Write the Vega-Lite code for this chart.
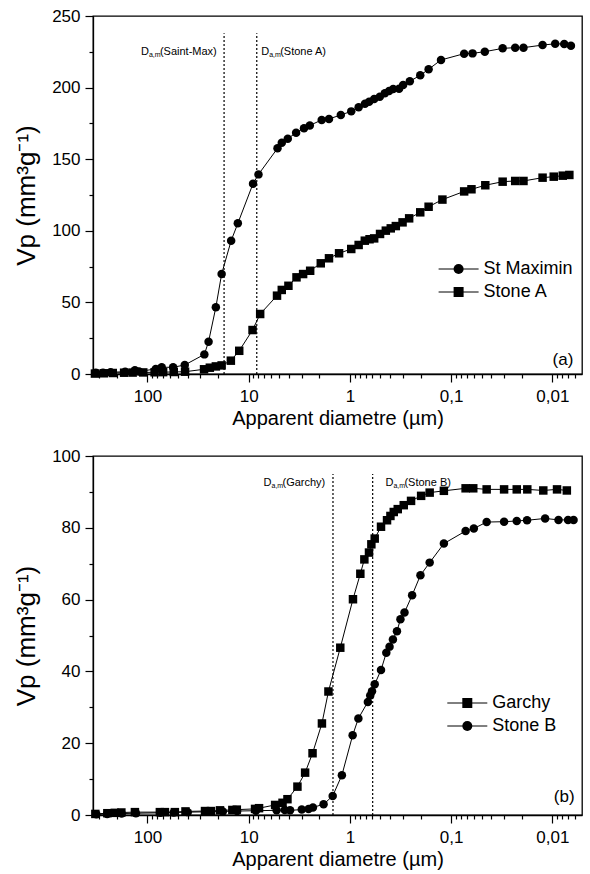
{
  "$schema": "https://vega.github.io/schema/vega-lite/v6.json",
  "padding": {"left": 12, "top": 6, "right": 0, "bottom": 0},
  "background": "white",
  "spacing": 17,
  "resolve": {"scale": {"shape": "independent", "color": "independent"}, "legend": {"shape": "independent", "color": "independent"}},
  "config": {
    "font": "Liberation Sans",
    "view": {"stroke": "black", "strokeWidth": 1.3},
    "axis": {
      "domainColor": "black", "domainWidth": 1.3, "tickColor": "black", "tickWidth": 1.2,
      "labelColor": "black", "titleColor": "black", "labelFont": "Liberation Sans", "titleFont": "Liberation Sans",
      "labelFontSize": 17, "titleFontWeight": "normal", "grid": false, "labelFlush": false, "labelOverlap": false
    }
  },
  "datasets": {
    "a_pts": [
      {"s":"St Maximin","d":324,"v":0.9},{"s":"St Maximin","d":275,"v":0.9},{"s":"St Maximin","d":231,"v":1.2},{"s":"St Maximin","d":166,"v":1.6},{"s":"St Maximin","d":133,"v":2.6},{"s":"St Maximin","d":121,"v":1.8},{"s":"St Maximin","d":82.8,"v":3.5},{"s":"St Maximin","d":72.3,"v":4.7},{"s":"St Maximin","d":55.8,"v":4.7},{"s":"St Maximin","d":42.8,"v":6.3},{"s":"St Maximin","d":27.4,"v":13.7},{"s":"St Maximin","d":24.9,"v":22.6},{"s":"St Maximin","d":21.1,"v":46.6},{"s":"St Maximin","d":18.5,"v":69.8},{"s":"St Maximin","d":14.9,"v":93.1},{"s":"St Maximin","d":12.8,"v":105.2},{"s":"St Maximin","d":9.06,"v":132.9},{"s":"St Maximin","d":8.0,"v":139.4},{"s":"St Maximin","d":5.19,"v":157.6},{"s":"St Maximin","d":4.71,"v":161.5},{"s":"St Maximin","d":4.11,"v":164.3},{"s":"St Maximin","d":3.4,"v":168.5},{"s":"St Maximin","d":2.84,"v":171.6},{"s":"St Maximin","d":2.49,"v":173.6},{"s":"St Maximin","d":1.9,"v":177.4},{"s":"St Maximin","d":1.61,"v":178.1},{"s":"St Maximin","d":1.23,"v":180.9},{"s":"St Maximin","d":0.97,"v":183.4},{"s":"St Maximin","d":0.82,"v":186.2},{"s":"St Maximin","d":0.71,"v":188.7},{"s":"St Maximin","d":0.646,"v":190.2},{"s":"St Maximin","d":0.576,"v":192},{"s":"St Maximin","d":0.507,"v":193.6},{"s":"St Maximin","d":0.452,"v":196},{"s":"St Maximin","d":0.41,"v":197.6},{"s":"St Maximin","d":0.374,"v":199},{"s":"St Maximin","d":0.327,"v":199.2},{"s":"St Maximin","d":0.298,"v":201.8},{"s":"St Maximin","d":0.256,"v":204.4},{"s":"St Maximin","d":0.202,"v":208.6},{"s":"St Maximin","d":0.167,"v":212.8},{"s":"St Maximin","d":0.126,"v":219.3},{"s":"St Maximin","d":0.0744,"v":223.7},{"s":"St Maximin","d":0.0615,"v":223.9},{"s":"St Maximin","d":0.0465,"v":225.1},{"s":"St Maximin","d":0.031,"v":227.4},{"s":"St Maximin","d":0.0233,"v":227.9},{"s":"St Maximin","d":0.0193,"v":227.9},{"s":"St Maximin","d":0.0125,"v":229.7},{"s":"St Maximin","d":0.00938,"v":230.6},{"s":"St Maximin","d":0.00764,"v":230.4},{"s":"St Maximin","d":0.00656,"v":229.3},
      {"s":"Stone A","d":330,"v":0.3},{"s":"Stone A","d":270,"v":0.5},{"s":"Stone A","d":220,"v":0.7},{"s":"Stone A","d":170,"v":0.9},{"s":"Stone A","d":140,"v":1.0},{"s":"Stone A","d":110,"v":1.1},{"s":"Stone A","d":85,"v":1.2},{"s":"Stone A","d":70,"v":1.3},{"s":"Stone A","d":55,"v":1.4},{"s":"Stone A","d":42.5,"v":1.6},{"s":"Stone A","d":27.6,"v":3.3},{"s":"Stone A","d":24.2,"v":4.4},{"s":"Stone A","d":21.1,"v":5.3},{"s":"Stone A","d":18.5,"v":6.0},{"s":"Stone A","d":15,"v":9.3},{"s":"Stone A","d":12.4,"v":16.2},{"s":"Stone A","d":9.16,"v":30.7},{"s":"Stone A","d":7.7,"v":41.9},{"s":"Stone A","d":5.25,"v":54.7},{"s":"Stone A","d":4.71,"v":58.7},{"s":"Stone A","d":4.05,"v":61.6},{"s":"Stone A","d":3.37,"v":67.5},{"s":"Stone A","d":2.9,"v":69.8},{"s":"Stone A","d":2.47,"v":72.1},{"s":"Stone A","d":1.94,"v":77.3},{"s":"Stone A","d":1.61,"v":80.8},{"s":"Stone A","d":1.28,"v":84.3},{"s":"Stone A","d":0.97,"v":87.3},{"s":"Stone A","d":0.82,"v":90.1},{"s":"Stone A","d":0.713,"v":93.1},{"s":"Stone A","d":0.64,"v":94.1},{"s":"Stone A","d":0.576,"v":94.7},{"s":"Stone A","d":0.504,"v":97.8},{"s":"Stone A","d":0.442,"v":100.1},{"s":"Stone A","d":0.395,"v":101.7},{"s":"Stone A","d":0.352,"v":103.3},{"s":"Stone A","d":0.302,"v":105.9},{"s":"Stone A","d":0.26,"v":108.7},{"s":"Stone A","d":0.202,"v":112.9},{"s":"Stone A","d":0.167,"v":116.8},{"s":"Stone A","d":0.122,"v":121.8},{"s":"Stone A","d":0.0744,"v":127.5},{"s":"Stone A","d":0.063,"v":129},{"s":"Stone A","d":0.046,"v":131.8},{"s":"Stone A","d":0.031,"v":134.3},{"s":"Stone A","d":0.0233,"v":134.8},{"s":"Stone A","d":0.0193,"v":134.8},{"s":"Stone A","d":0.0125,"v":137.1},{"s":"Stone A","d":0.0097,"v":137.8},{"s":"Stone A","d":0.0079,"v":138.5},{"s":"Stone A","d":0.0068,"v":139}
    ],
    "b_pts": [
      {"s":"Garchy","d":327,"v":0.3},{"s":"Garchy","d":249,"v":0.5},{"s":"Garchy","d":210,"v":0.6},{"s":"Garchy","d":181,"v":0.7},{"s":"Garchy","d":133,"v":0.8},{"s":"Garchy","d":75.4,"v":0.8},{"s":"Garchy","d":67.2,"v":0.8},{"s":"Garchy","d":53.6,"v":0.8},{"s":"Garchy","d":42.1,"v":1.0},{"s":"Garchy","d":27,"v":1.1},{"s":"Garchy","d":23.6,"v":1.1},{"s":"Garchy","d":19.2,"v":1.3},{"s":"Garchy","d":14.5,"v":1.4},{"s":"Garchy","d":13.1,"v":1.5},{"s":"Garchy","d":8.65,"v":1.7},{"s":"Garchy","d":7.9,"v":1.9},{"s":"Garchy","d":5.48,"v":2.8},{"s":"Garchy","d":4.63,"v":3.4},{"s":"Garchy","d":4.14,"v":4.4},{"s":"Garchy","d":3.3,"v":7.9},{"s":"Garchy","d":2.77,"v":11.8},{"s":"Garchy","d":2.34,"v":17.2},{"s":"Garchy","d":1.89,"v":25.5},{"s":"Garchy","d":1.63,"v":34.4},{"s":"Garchy","d":1.245,"v":46.6},{"s":"Garchy","d":0.933,"v":60.1},{"s":"Garchy","d":0.789,"v":67.2},{"s":"Garchy","d":0.72,"v":71.2},{"s":"Garchy","d":0.648,"v":73.1},{"s":"Garchy","d":0.614,"v":75.4},{"s":"Garchy","d":0.569,"v":77},{"s":"Garchy","d":0.493,"v":80.3},{"s":"Garchy","d":0.43,"v":82.1},{"s":"Garchy","d":0.398,"v":83.3},{"s":"Garchy","d":0.369,"v":84.4},{"s":"Garchy","d":0.337,"v":85.2},{"s":"Garchy","d":0.294,"v":86.3},{"s":"Garchy","d":0.249,"v":87.5},{"s":"Garchy","d":0.198,"v":88.9},{"s":"Garchy","d":0.163,"v":89.8},{"s":"Garchy","d":0.118,"v":90.3},{"s":"Garchy","d":0.072,"v":91},{"s":"Garchy","d":0.0605,"v":91},{"s":"Garchy","d":0.0446,"v":90.7},{"s":"Garchy","d":0.03,"v":90.7},{"s":"Garchy","d":0.0225,"v":90.7},{"s":"Garchy","d":0.0177,"v":90.7},{"s":"Garchy","d":0.0123,"v":90.4},{"s":"Garchy","d":0.009,"v":90.7},{"s":"Garchy","d":0.0072,"v":90.4},
      {"s":"Stone B","d":320,"v":0.2},{"s":"Stone B","d":250,"v":0.3},{"s":"Stone B","d":180,"v":0.4},{"s":"Stone B","d":130,"v":0.5},{"s":"Stone B","d":75,"v":0.6},{"s":"Stone B","d":55,"v":0.7},{"s":"Stone B","d":40,"v":0.8},{"s":"Stone B","d":25,"v":0.9},{"s":"Stone B","d":18,"v":1.0},{"s":"Stone B","d":13,"v":1.1},{"s":"Stone B","d":8.5,"v":1.2},{"s":"Stone B","d":5.3,"v":1.3},{"s":"Stone B","d":4.4,"v":1.4},{"s":"Stone B","d":3.9,"v":1.3},{"s":"Stone B","d":2.99,"v":1.5},{"s":"Stone B","d":2.56,"v":1.7},{"s":"Stone B","d":2.32,"v":2.1},{"s":"Stone B","d":1.82,"v":3.0},{"s":"Stone B","d":1.48,"v":5.3},{"s":"Stone B","d":1.2,"v":11.1},{"s":"Stone B","d":0.94,"v":22.2},{"s":"Stone B","d":0.825,"v":26.9},{"s":"Stone B","d":0.665,"v":31.5},{"s":"Stone B","d":0.63,"v":33.3},{"s":"Stone B","d":0.605,"v":34.5},{"s":"Stone B","d":0.569,"v":36.4},{"s":"Stone B","d":0.493,"v":40.4},{"s":"Stone B","d":0.437,"v":45.2},{"s":"Stone B","d":0.406,"v":46.9},{"s":"Stone B","d":0.376,"v":48.9},{"s":"Stone B","d":0.343,"v":51.2},{"s":"Stone B","d":0.317,"v":54.5},{"s":"Stone B","d":0.289,"v":56.4},{"s":"Stone B","d":0.243,"v":61.2},{"s":"Stone B","d":0.201,"v":66.8},{"s":"Stone B","d":0.163,"v":70.3},{"s":"Stone B","d":0.118,"v":75.6},{"s":"Stone B","d":0.072,"v":79.1},{"s":"Stone B","d":0.0597,"v":79.8},{"s":"Stone B","d":0.0446,"v":81.6},{"s":"Stone B","d":0.03,"v":81.7},{"s":"Stone B","d":0.0225,"v":81.9},{"s":"Stone B","d":0.0178,"v":82.1},{"s":"Stone B","d":0.0118,"v":82.6},{"s":"Stone B","d":0.0087,"v":82.2},{"s":"Stone B","d":0.007,"v":82.2},{"s":"Stone B","d":0.00618,"v":82.2}
    ],
    "a_rules": [{"d":17.5,"v":0,"v2":238},{"d":8.32,"v":0,"v2":238}],
    "b_rules": [{"d":1.47,"v":0,"v2":95},{"d":0.596,"v":0,"v2":95}],
    "a_notes": [{"d":116,"v":224.8,"name":"(Saint-Max)"},{"d":7.53,"v":224.8,"name":"(Stone A)"}],
    "b_notes": [{"d":7.14,"v":92.6,"name":"(Garchy)"},{"d":0.446,"v":92.6,"name":"(Stone B)"}],
    "a_tag": [{"d":0.00787,"v":9.8,"t":"(a)"}],
    "b_tag": [{"d":0.00765,"v":4.9,"t":"(b)"}]
  },
  "vconcat": [
    {
      "width": 489, "height": 358,
      "encoding": {
        "x": {"field": "d", "type": "quantitative",
          "scale": {"type": "log", "domain": [0.0051, 345], "reverse": true, "nice": false},
          "axis": {
            "values": [300,200,100,90,80,70,60,50,40,30,20,10,9,8,7,6,5,4,3,2,1,0.9,0.8,0.7,0.6,0.5,0.4,0.3,0.2,0.1,0.09,0.08,0.07,0.06,0.05,0.04,0.03,0.02,0.01,0.009,0.008,0.007,0.006],
            "labelExpr": "indexof([100,10,1,0.1,0.01], datum.value) >= 0 ? (datum.value >= 1 ? format(datum.value, 'd') : replace(format(datum.value, '.2~f'), '.', ',')) : ''",
            "tickSize": {"condition": {"test": "indexof([100,10,1,0.1,0.01], datum.value) >= 0", "value": 8}, "value": 4},
            "labelPadding": 6, "title": "Apparent diametre (µm)", "titleFontSize": 20, "titlePadding": 4
          }},
        "y": {"field": "v", "type": "quantitative",
          "scale": {"domain": [0, 250], "nice": false},
          "axis": {
            "values": [0,25,50,75,100,125,150,175,200,225,250],
            "labelExpr": "datum.value % 50 === 0 ? format(datum.value, 'd') : ''",
            "tickSize": {"condition": {"test": "datum.value % 50 === 0", "value": 8}, "value": 4},
            "labelPadding": 5, "title": "Vp (mm³g⁻¹)", "titleFontSize": 26, "titlePadding": 12.4
          }}
      },
      "layer": [
        {"data": {"name": "a_rules"}, "mark": {"type": "rule", "color": "black", "strokeWidth": 1.2, "strokeDash": [2, 2]},
         "encoding": {"y2": {"field": "v2"}}},
        {"data": {"name": "a_notes"}, "mark": {"type": "text", "align": "left", "baseline": "middle", "fontSize": 11, "color": "black"},
         "encoding": {"text": {"value": "D"}}},
        {"data": {"name": "a_notes"}, "mark": {"type": "text", "align": "left", "baseline": "middle", "fontSize": 7, "dx": 8, "dy": 3, "color": "black"},
         "encoding": {"text": {"value": "a,m"}}},
        {"data": {"name": "a_notes"}, "mark": {"type": "text", "align": "left", "baseline": "middle", "fontSize": 11, "dx": 19, "color": "black"},
         "encoding": {"text": {"field": "name"}}},
        {"data": {"name": "a_pts"}, "mark": {"type": "line", "strokeWidth": 1},
         "encoding": {
           "detail": {"field": "s"},
           "color": {"field": "s", "type": "nominal", "scale": {"domain": ["Stone A", "St Maximin"], "range": ["black", "black"]},
             "legend": {"title": null, "orient": "none", "legendX": 356.6, "legendY": 244, "padding": 0,
               "symbolType": "M-4,0H4", "symbolSize": 100, "symbolStrokeWidth": 1, "symbolStrokeColor": "black",
               "labelExpr": "''", "labelFontSize": 18, "labelOffset": 16, "rowPadding": 5}}
         }},
        {"data": {"name": "a_pts"}, "mark": {"type": "point", "filled": true, "opacity": 1, "color": "black", "size": 72},
         "encoding": {
           "shape": {"field": "s", "type": "nominal", "scale": {"domain": ["St Maximin", "Stone A"], "range": ["circle", "square"]},
             "legend": {"title": null, "orient": "none", "legendX": 356.6, "legendY": 244, "padding": 0,
               "labelFontSize": 18, "labelFont": "Liberation Sans", "labelColor": "black", "symbolSize": 100,
               "symbolFillColor": "black", "symbolStrokeColor": "black", "symbolStrokeWidth": 1, "labelOffset": 16, "rowPadding": 5}}
         }},
        {"data": {"name": "a_tag"}, "mark": {"type": "text", "align": "center", "baseline": "middle", "fontSize": 17, "color": "black"},
         "encoding": {"text": {"field": "t"}}}
      ]
    },
    {
      "width": 489, "height": 359,
      "encoding": {
        "x": {"field": "d", "type": "quantitative",
          "scale": {"type": "log", "domain": [0.0051, 345], "reverse": true, "nice": false},
          "axis": {
            "values": [300,200,100,90,80,70,60,50,40,30,20,10,9,8,7,6,5,4,3,2,1,0.9,0.8,0.7,0.6,0.5,0.4,0.3,0.2,0.1,0.09,0.08,0.07,0.06,0.05,0.04,0.03,0.02,0.01,0.009,0.008,0.007,0.006],
            "labelExpr": "indexof([100,10,1,0.1,0.01], datum.value) >= 0 ? (datum.value >= 1 ? format(datum.value, 'd') : replace(format(datum.value, '.2~f'), '.', ',')) : ''",
            "tickSize": {"condition": {"test": "indexof([100,10,1,0.1,0.01], datum.value) >= 0", "value": 8}, "value": 4},
            "labelPadding": 6, "title": "Apparent diametre (µm)", "titleFontSize": 20, "titlePadding": 4
          }},
        "y": {"field": "v", "type": "quantitative",
          "scale": {"domain": [0, 100], "nice": false},
          "axis": {
            "values": [0,10,20,30,40,50,60,70,80,90,100],
            "labelExpr": "datum.value % 20 === 0 ? format(datum.value, 'd') : ''",
            "tickSize": {"condition": {"test": "datum.value % 20 === 0", "value": 8}, "value": 4},
            "labelPadding": 5, "title": "Vp (mm³g⁻¹)", "titleFontSize": 26, "titlePadding": 12.4
          }}
      },
      "layer": [
        {"data": {"name": "b_rules"}, "mark": {"type": "rule", "color": "black", "strokeWidth": 1.2, "strokeDash": [2, 2]},
         "encoding": {"y2": {"field": "v2"}}},
        {"data": {"name": "b_notes"}, "mark": {"type": "text", "align": "left", "baseline": "middle", "fontSize": 11, "color": "black"},
         "encoding": {"text": {"value": "D"}}},
        {"data": {"name": "b_notes"}, "mark": {"type": "text", "align": "left", "baseline": "middle", "fontSize": 7, "dx": 8, "dy": 3, "color": "black"},
         "encoding": {"text": {"value": "a,m"}}},
        {"data": {"name": "b_notes"}, "mark": {"type": "text", "align": "left", "baseline": "middle", "fontSize": 11, "dx": 19, "color": "black"},
         "encoding": {"text": {"field": "name"}}},
        {"data": {"name": "b_pts"}, "mark": {"type": "line", "strokeWidth": 1},
         "encoding": {
           "detail": {"field": "s"},
           "color": {"field": "s", "type": "nominal", "scale": {"domain": ["Stone B", "Garchy"], "range": ["black", "black"]},
             "legend": {"title": null, "orient": "none", "legendX": 365.3, "legendY": 238, "padding": 0,
               "symbolType": "M-4,0H4", "symbolSize": 100, "symbolStrokeWidth": 1, "symbolStrokeColor": "black",
               "labelExpr": "''", "labelFontSize": 18, "labelOffset": 16, "rowPadding": 5}}
         }},
        {"data": {"name": "b_pts"}, "mark": {"type": "point", "filled": true, "opacity": 1, "color": "black", "size": 72},
         "encoding": {
           "shape": {"field": "s", "type": "nominal", "scale": {"domain": ["Garchy", "Stone B"], "range": ["square", "circle"]},
             "legend": {"title": null, "orient": "none", "legendX": 365.3, "legendY": 238, "padding": 0,
               "labelFontSize": 18, "labelFont": "Liberation Sans", "labelColor": "black", "symbolSize": 100,
               "symbolFillColor": "black", "symbolStrokeColor": "black", "symbolStrokeWidth": 1, "labelOffset": 16, "rowPadding": 5}}
         }},
        {"data": {"name": "b_tag"}, "mark": {"type": "text", "align": "center", "baseline": "middle", "fontSize": 17, "color": "black"},
         "encoding": {"text": {"field": "t"}}}
      ]
    }
  ]
}
